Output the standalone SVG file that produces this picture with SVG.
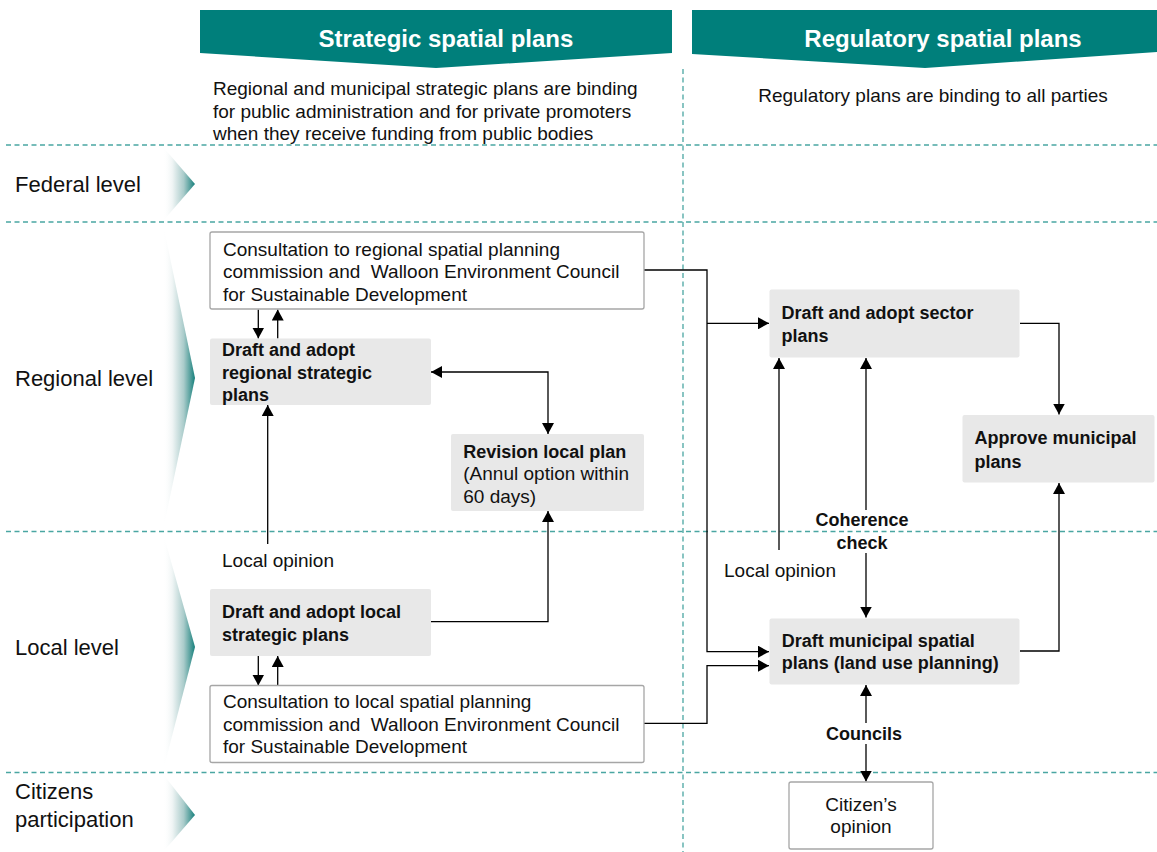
<svg xmlns="http://www.w3.org/2000/svg" width="1157" height="852" viewBox="0 0 1157 852">
<style>
text{font-family:"Liberation Sans",Arial,sans-serif;fill:#111}
.t{font-size:19px}
.b{font-size:18px;font-weight:bold}
.lvl{font-size:22px}
.ttl{font-size:24px;font-weight:bold;fill:#fff}
.wb{fill:#fff;stroke:#a6a6a6;stroke-width:1.3}
.gb{fill:#e8e8e8}
.dash{stroke:#4aa6a2;stroke-width:1.3;stroke-dasharray:5 3.5;fill:none}
.c{fill:none;stroke:#000;stroke-width:1.3}
.ban{fill:#007f7b}
</style>
<defs>
<marker id="ah" markerUnits="userSpaceOnUse" markerWidth="11" markerHeight="12" viewBox="0 0 11 12" refX="11" refY="6" orient="auto-start-reverse">
<path d="M0,0 L11,6 L0,12 z" fill="#000"/>
</marker>
<linearGradient id="chev" x1="0" y1="0" x2="1" y2="0">
<stop offset="0" stop-color="#ffffff" stop-opacity="0"/>
<stop offset="0.3" stop-color="#eef4f4"/>
<stop offset="0.65" stop-color="#a9cbca"/>
<stop offset="1" stop-color="#17807c"/>
</linearGradient>
</defs>
<rect width="1157" height="852" fill="#fff"/>

<g id="banners">
<polygon class="ban" points="200,10 672,10 672,53 436,68 200,53"/>
<text class="ttl" x="446" y="47" text-anchor="middle">Strategic spatial plans</text>
<polygon class="ban" points="692,10 1157,10 1157,52 925,68 692,54"/>
<text class="ttl" x="943" y="47" text-anchor="middle">Regulatory spatial plans</text>
</g>

<g id="descriptions">
<text class="t" x="213" y="94.5">Regional and municipal strategic plans are binding</text>
<text class="t" x="213" y="117.5">for public administration and for private promoters</text>
<text class="t" x="213" y="140">when they receive funding from public bodies</text>
<text class="t" x="933" y="101.5" text-anchor="middle">Regulatory plans are binding to all parties</text>
</g>

<g id="gridlines">
<line class="dash" x1="6" y1="145" x2="1157" y2="145"/>
<line class="dash" x1="6" y1="222" x2="1157" y2="222"/>
<line class="dash" x1="6" y1="531.5" x2="1157" y2="531.5"/>
<line class="dash" x1="6" y1="772.5" x2="1157" y2="772.5"/>
<line class="dash" x1="683" y1="69" x2="683" y2="852"/>
</g>

<g id="levels">
<polygon fill="url(#chev)" points="163,147 195,184 163,221"/>
<text class="lvl" x="15" y="191.5">Federal level</text>
<polygon fill="url(#chev)" points="163,224 195,378 163,530"/>
<text class="lvl" x="15" y="385.5">Regional level</text>
<polygon fill="url(#chev)" points="163,533 195,647 163,771"/>
<text class="lvl" x="15" y="654.5">Local level</text>
<polygon fill="url(#chev)" points="163,774 195,815 163,852"/>
<text class="lvl" x="15" y="799">Citizens</text>
<text class="lvl" x="15" y="827">participation</text>
</g>

<g id="connectors">
<path class="c" d="M644,270 H707 V651.7 H769" marker-end="url(#ah)"/>
<path class="c" d="M707,323.3 H769" marker-end="url(#ah)"/>
<path class="c" d="M644,723.3 H707 V665.7 H769" marker-end="url(#ah)"/>
<path class="c" d="M1020,323.3 H1059 V414.5" marker-end="url(#ah)"/>
<path class="c" d="M1020,651 H1059 V483" marker-end="url(#ah)"/>
<path class="c" d="M866,510 V358" marker-end="url(#ah)"/>
<path class="c" d="M866,553 V617.5" marker-end="url(#ah)"/>
<path class="c" d="M779,550 V358" marker-end="url(#ah)"/>
<path class="c" d="M866,723 V685" marker-end="url(#ah)"/>
<path class="c" d="M866,744 V781.5" marker-end="url(#ah)"/>
<path class="c" d="M258.3,309.5 V338.5" marker-end="url(#ah)"/>
<path class="c" d="M277.7,338.5 V309.5" marker-end="url(#ah)"/>
<path class="c" d="M431,372 H548 V434" marker-start="url(#ah)" marker-end="url(#ah)"/>
<path class="c" d="M267.7,544 V405" marker-end="url(#ah)"/>
<path class="c" d="M431,621.7 H548 V511" marker-end="url(#ah)"/>
<path class="c" d="M258.3,656 V685.5" marker-end="url(#ah)"/>
<path class="c" d="M277.7,685.5 V656" marker-end="url(#ah)"/>
<text class="t" x="222" y="566.5">Local opinion</text>
<text class="t" x="724" y="576.5">Local opinion</text>
<text class="b" x="862" y="526" text-anchor="middle">Coherence</text>
<text class="b" x="862" y="548.5" text-anchor="middle">check</text>
<text class="b" x="864" y="739.5" text-anchor="middle">Councils</text>
</g>

<g id="consult-regional">
<rect class="wb" x="210" y="232" width="434" height="77" rx="2"/>
<text class="t" x="223" y="255.5">Consultation to regional spatial planning</text>
<text class="t" x="223" y="278.3">commission and&#160; Walloon Environment Council</text>
<text class="t" x="223" y="301">for Sustainable Development</text>
</g>

<g id="draft-regional">
<rect class="gb" x="210" y="338.5" width="221" height="66.5" rx="2"/>
<text class="b" x="222" y="356">Draft and adopt</text>
<text class="b" x="222" y="378.7">regional strategic</text>
<text class="b" x="222" y="401">plans</text>
</g>

<g id="revision">
<rect class="gb" x="451" y="434" width="193" height="77" rx="2"/>
<text class="b" x="463.3" y="457.7">Revision local plan</text>
<text class="t" x="463.3" y="480">(Annul option within</text>
<text class="t" x="463.3" y="502.7">60 days)</text>
</g>

<g id="draft-local">
<rect class="gb" x="210" y="589" width="221" height="67" rx="2"/>
<text class="b" x="222" y="618.3">Draft and adopt local</text>
<text class="b" x="222" y="641">strategic plans</text>
</g>

<g id="consult-local">
<rect class="wb" x="210" y="685.5" width="434" height="77" rx="2"/>
<text class="t" x="223" y="708.3">Consultation to local spatial planning</text>
<text class="t" x="223" y="730.7">commission and&#160; Walloon Environment Council</text>
<text class="t" x="223" y="753.3">for Sustainable Development</text>
</g>

<g id="sector">
<rect class="gb" x="769.5" y="289.5" width="250" height="68" rx="2"/>
<text class="b" x="781.6" y="319.3">Draft and adopt sector</text>
<text class="b" x="781.6" y="341.7">plans</text>
</g>

<g id="approve">
<rect class="gb" x="962.5" y="415" width="192" height="67.5" rx="2"/>
<text class="b" x="974.5" y="444.3">Approve municipal</text>
<text class="b" x="974.5" y="468.3">plans</text>
</g>

<g id="municipal">
<rect class="gb" x="769.5" y="618.5" width="250" height="66" rx="2"/>
<text class="b" x="781.7" y="646.7">Draft municipal spatial</text>
<text class="b" x="781.7" y="669.3">plans (land use planning)</text>
</g>

<g id="citizen">
<rect class="wb" x="789" y="782" width="144" height="67" rx="2"/>
<text class="t" x="861" y="811" text-anchor="middle">Citizen’s</text>
<text class="t" x="861" y="833.3" text-anchor="middle">opinion</text>
</g>
</svg>
